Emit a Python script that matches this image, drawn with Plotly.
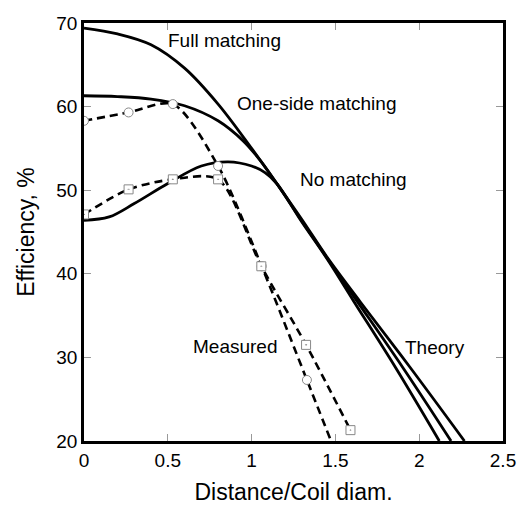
import plotly.graph_objects as go

# Theory curves
full_x = [0, 0.2, 0.4, 0.6, 0.8, 1.0, 1.15, 1.3, 1.45, 1.65, 1.944, 2.27]
full_y = [69.4, 68.7, 67.4, 64.6, 60.3, 55.0, 50.8, 46.5, 42.0, 36.6, 28.85, 20.0]

one_x = [0, 0.2, 0.4, 0.6, 0.8, 0.95, 1.05, 1.15, 1.3, 1.45, 1.63, 1.90, 2.19]
one_y = [61.3, 61.2, 60.9, 60.1, 58.3, 55.9, 53.6, 50.8, 46.3, 41.9, 36.7, 28.85, 20.0]

none_x = [0, 0.15, 0.3, 0.5, 0.7, 0.86, 1.0, 1.08, 1.15, 1.3, 1.45, 1.61, 1.857, 2.12]
none_y = [46.4, 46.8, 48.4, 50.8, 52.9, 53.4, 52.9, 52.1, 50.8, 46.2, 41.8, 36.7, 28.85, 20.0]

# Measured data
circ_x = [0, 0.266, 0.53, 0.80, 1.06, 1.33]
circ_y = [58.3, 59.3, 60.3, 52.9, 40.9, 27.3]
circ_line_x = [0, 0.266, 0.53, 0.80, 1.06, 1.33, 1.474]
circ_line_y = [58.3, 59.3, 60.3, 52.9, 40.9, 27.3, 20.0]

sq_x = [0, 0.266, 0.53, 0.80, 1.058, 1.325, 1.59]
sq_y = [47.1, 50.1, 51.3, 51.3, 40.9, 31.5, 21.3]

x_ticks = [0, 0.5, 1, 1.5, 2, 2.5]
x_ticklabels = ["0", "0.5", "1", "1.5", "2", "2.5"]
y_ticks = [20, 30, 40, 50, 60, 70]

labels = [
    ("Full matching", 0.502, 67.85),
    ("One-side matching", 0.9125, 60.36),
    ("No matching", 1.286, 51.27),
    ("Measured", 0.651, 31.33),
    ("Theory", 1.917, 31.24),
]

FONT = "Arial, Liberation Sans, sans-serif"
FS = 19

fig = go.Figure()
for xs, ys in [(full_x, full_y), (one_x, one_y), (none_x, none_y)]:
    fig.add_trace(go.Scatter(x=xs, y=ys, mode="lines",
                             line=dict(color="black", width=2.8, shape="spline", smoothing=1.0),
                             showlegend=False, hoverinfo="skip"))

for xs, ys in [(circ_line_x, circ_line_y), (sq_x, sq_y)]:
    fig.add_trace(go.Scatter(x=xs, y=ys, mode="lines",
                             line=dict(color="black", width=2.6, dash="8px,5px", shape="spline", smoothing=0.8),
                             showlegend=False, hoverinfo="skip"))

fig.add_trace(go.Scatter(x=circ_x, y=circ_y, mode="markers",
                         marker=dict(symbol="circle", size=9, color="white",
                                     line=dict(color="#888888", width=1)),
                         showlegend=False))
fig.add_trace(go.Scatter(x=sq_x, y=sq_y, mode="markers",
                         marker=dict(symbol="square-dot", size=9, color="white",
                                     line=dict(color="#888888", width=1)),
                         showlegend=False))

for text, x, y in labels:
    fig.add_annotation(x=x, y=y, text=text, showarrow=False, xanchor="left",
                       yanchor="middle", xshift=-2,
                       font=dict(family=FONT, size=FS, color="black"))

fig.update_layout(
    width=522, height=505,
    margin=dict(l=84, r=19, t=23, b=64),
    paper_bgcolor="white", plot_bgcolor="white",
    font=dict(family=FONT, size=FS, color="black"),
)
fig.update_xaxes(range=[0, 2.5], tickvals=x_ticks, ticktext=x_ticklabels,
                 ticks="inside", ticklen=7, tickcolor="#999999", tickwidth=1,
                 showline=True, linecolor="black", linewidth=2.6, mirror="ticks",
                 showgrid=False, zeroline=False, automargin=False,
                 title=dict(text="Distance/Coil diam.", standoff=16))
fig.update_yaxes(range=[20, 70], tickvals=y_ticks,
                 ticks="inside", ticklen=7, tickcolor="#999999", tickwidth=1,
                 showline=True, linecolor="black", linewidth=2.6, mirror="ticks",
                 showgrid=False, zeroline=False, automargin=False,
                 title=dict(text="Efficiency, %", standoff=16))

fig.write_html("out.html")
